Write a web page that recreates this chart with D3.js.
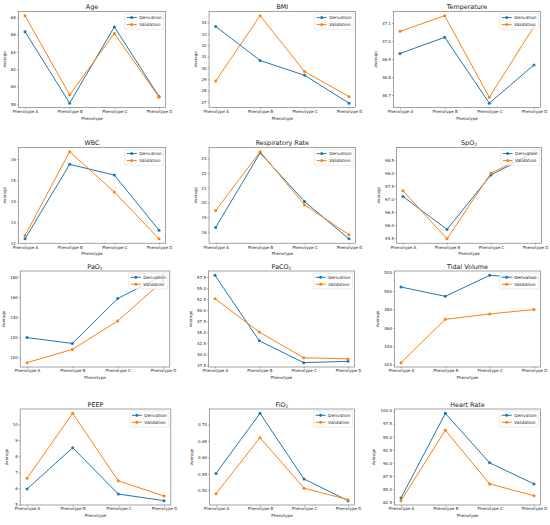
<!DOCTYPE html>
<html><head><meta charset="utf-8">
<script src="https://cdn.jsdelivr.net/npm/d3@7/dist/d3.min.js"></script>
<style>body{margin:0;background:#fff}svg{display:block}</style>
</head><body><svg id="c" width="550" height="525"></svg>
<script>
const categories = ["Phenotype A","Phenotype B","Phenotype C","Phenotype D"];
const seriesNames = ["Derivation","Validation"];

const ageDerivation = [66.35, 58.08, 66.9, 58.85];
const ageValidation = [68.2, 59.04, 66.15, 58.77];
const ageTicks = ["58","60","62","64","66","68"];

const bmiDerivation = [33.65, 30.65, 29.35, 26.9];
const bmiValidation = [28.85, 34.6, 29.68, 27.47];
const bmiTicks = ["27","28","29","30","31","32","33","34"];

const tempDerivation = [36.93, 37.02, 36.655, 36.867];
const tempValidation = [37.053, 37.14, 36.687, 37.08];
const tempTicks = ["36.7","36.8","36.9","37.0","37.1"];

const wbcDerivation = [12.22, 15.75, 15.24, 12.63];
const wbcValidation = [12.38, 16.35, 14.44, 12.22];
const wbcTicks = ["12","13","14","15","16"];

const rrDerivation = [18.3, 23.4, 20.07, 17.52];
const rrValidation = [19.45, 23.48, 19.84, 17.8];
const rrTicks = ["18","19","20","21","22","23"];

const spo2Derivation = [97.09, 95.83, 97.92, 98.78];
const spo2Validation = [97.31, 95.47, 97.99, 98.81];
const spo2Ticks = ["95.5","96.0","96.5","97.0","97.5","98.0","98.5"];

const pao2Derivation = [119.7, 113.8, 158.4, 181.5];
const pao2Validation = [94.75, 107.9, 136.1, 176];
const pao2Ticks = ["100","120","140","160","180"];

const paco2Derivation = [57.9, 43.04, 38.1, 38.4];
const paco2Validation = [52.6, 45.04, 39.2, 38.95];
const paco2Ticks = ["37.5","40.0","42.5","45.0","47.5","50.0","52.5","55.0","57.5"];

const tvDerivation = [504.4, 494.3, 517.1, 514];
const tvValidation = [422.2, 469.3, 475.1, 480];
const tvTicks = ["420","440","460","480","500","520"];

const peepDerivation = [5.96, 8.53, 5.65, 5.24];
const peepValidation = [6.63, 10.67, 6.47, 5.53];
const peepTicks = ["5","6","7","8","9","10"];

const fio2Derivation = [0.551, 0.734, 0.534, 0.468];
const fio2Validation = [0.489, 0.66, 0.506, 0.471];
const fio2Ticks = ["0.50","0.55","0.60","0.65","0.70"];

const hrDerivation = [83.28, 99.48, 90.0, 85.97];
const hrValidation = [82.76, 96.25, 85.97, 83.7];
const hrTicks = ["82.5","85.0","87.5","90.0","92.5","95.0","97.5","100.0"];

const panels = [
  {t:"Age", s:"", d:ageDerivation, v:ageValidation, ticks:ageTicks},
  {t:"BMI", s:"", d:bmiDerivation, v:bmiValidation, ticks:bmiTicks},
  {t:"Temperature", s:"", d:tempDerivation, v:tempValidation, ticks:tempTicks},
  {t:"WBC", s:"", d:wbcDerivation, v:wbcValidation, ticks:wbcTicks},
  {t:"Respiratory Rate", s:"", d:rrDerivation, v:rrValidation, ticks:rrTicks},
  {t:"SpO", s:"2", d:spo2Derivation, v:spo2Validation, ticks:spo2Ticks},
  {t:"PaO", s:"2", d:pao2Derivation, v:pao2Validation, ticks:pao2Ticks},
  {t:"PaCO", s:"2", d:paco2Derivation, v:paco2Validation, ticks:paco2Ticks},
  {t:"Tidal Volume", s:"", d:tvDerivation, v:tvValidation, ticks:tvTicks},
  {t:"PEEP", s:"", d:peepDerivation, v:peepValidation, ticks:peepTicks},
  {t:"FiO", s:"2", d:fio2Derivation, v:fio2Validation, ticks:fio2Ticks},
  {t:"Heart Rate", s:"", d:hrDerivation, v:hrValidation, ticks:hrTicks}
];

// layout
const rowTops = [11.3, 147.3, 271, 409];
const rowBottoms = [107.5, 243.2, 367, 505];
const firstX = [[25,215.7,400],[25,215.7,403],[27,215,401],[27,216,401]];
const lastX  = [[159,349,534],[159,349,535],[163,348,534],[164,348,534]];
const colors = ["#1f77b4", "#ff7f0e"];
const FONT = "DejaVu Sans, sans-serif";

const svg = d3.select("#c");
svg.append("rect").attr("width",550).attr("height",525).attr("fill","#fff");

panels.forEach((p, i) => {
  const r = Math.floor(i/3), c = i%3;
  const xa = firstX[r][c], xd = lastX[r][c];
  const L = xa - 0.05*(xd-xa), R = xd + 0.05*(xd-xa);
  const T = rowTops[r], B = rowBottoms[r];
  const g = svg.append("g");

  const x = d3.scalePoint().domain(categories).range([L, R]).padding(0.15);
  const all = p.d.concat(p.v);
  const mn = d3.min(all), mx = d3.max(all), rg = mx - mn;
  const y = d3.scaleLinear().domain([mn - 0.05*rg, mx + 0.05*rg]).range([B, T]);

  const clipId = "clip" + i;
  g.append("clipPath").attr("id", clipId).append("rect")
    .attr("x", L).attr("y", T).attr("width", R-L).attr("height", B-T);

  // axes
  const xAxis = g.append("g").attr("transform", `translate(0,${B})`)
    .call(d3.axisBottom(x).tickSize(1.3).tickPadding(1.2));
  const yVals = p.ticks.map(Number);
  const yAxis = g.append("g").attr("transform", `translate(${L},0)`)
    .call(d3.axisLeft(y).tickValues(yVals).tickFormat((d,k)=>p.ticks[k]).tickSize(1.3).tickPadding(1.1));
  [xAxis, yAxis].forEach(a => {
    a.select(".domain").remove();
    a.selectAll("line").attr("stroke","#555").attr("stroke-width",0.5);
    a.selectAll("text").attr("font-family",FONT).attr("font-size",4).attr("fill","#222");
  });
  xAxis.selectAll("text").attr("dy","0.71em");

  // lines
  const series = [p.d, p.v];
  const plot = g.append("g").attr("clip-path", `url(#${clipId})`);
  series.forEach((vals, k) => {
    const line = d3.line().x((d,j)=>x(categories[j])).y(d=>y(d));
    plot.append("path").datum(vals).attr("d", line)
      .attr("fill","none").attr("stroke",colors[k]).attr("stroke-width",1);
    plot.selectAll(null).data(vals).enter().append("circle")
      .attr("cx",(d,j)=>x(categories[j])).attr("cy",d=>y(d)).attr("r",1.5)
      .attr("fill",colors[k]);
  });

  // frame
  g.append("rect").attr("x",L).attr("y",T).attr("width",R-L).attr("height",B-T)
    .attr("fill","none").attr("stroke","#666").attr("stroke-width",0.6);

  // title
  const title = g.append("text").attr("x",(L+R)/2).attr("y",T-2.5)
    .attr("text-anchor","middle").attr("font-family",FONT).attr("font-size",6.4).attr("fill","#222")
    .text(p.t);
  if (p.s) title.append("tspan").attr("font-size",4.4).attr("dy",1.3).text(p.s);

  // x label
  g.append("text").attr("x",(L+R)/2).attr("y",B+12).attr("text-anchor","middle")
    .attr("font-family",FONT).attr("font-size",4).attr("fill","#222").text("Phenotype");

  // y label
  let minX = Infinity;
  yAxis.selectAll("text").each(function(){
    const bb = this.getBBox();
    const ctm = L + bb.x;
    if (ctm < minX) minX = ctm;
  });
  const yl = minX - 5, ym = (T+B)/2;
  g.append("text").attr("transform",`translate(${yl},${ym}) rotate(-90)`).attr("text-anchor","middle")
    .attr("font-family",FONT).attr("font-size",4).attr("fill","#222").text("Average");

  // legend
  const lw = 39, lh = 16;
  const lx = R - 2 - lw, ly = T + 2;
  const lg = g.append("g");
  lg.append("rect").attr("x",lx).attr("y",ly).attr("width",lw).attr("height",lh).attr("rx",1)
    .attr("fill","#fff").attr("fill-opacity",0.8).attr("stroke","#ccc").attr("stroke-width",0.4);
  seriesNames.forEach((nm, k) => {
    const cy = ly + 4.3 + k*7;
    lg.append("line").attr("x1",lx+2).attr("x2",lx+12).attr("y1",cy).attr("y2",cy)
      .attr("stroke",colors[k]).attr("stroke-width",1);
    lg.append("circle").attr("cx",lx+7).attr("cy",cy).attr("r",1.5).attr("fill",colors[k]);
    lg.append("text").attr("x",lx+14.5).attr("y",cy+1.5).attr("font-family",FONT)
      .attr("font-size",4.3).attr("fill","#222").text(nm);
  });
});
</script></body></html>
